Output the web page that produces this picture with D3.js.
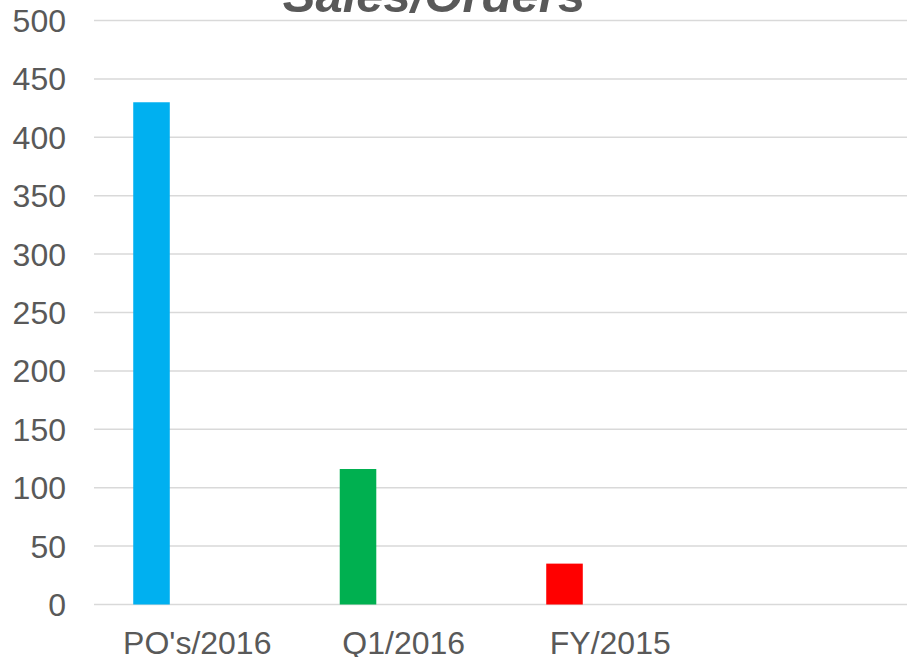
<!DOCTYPE html>
<html lang="en">
  <head>
    <meta charset="utf-8">
    <title>Sales/Orders</title>
    <style>
      body { margin: 0; background: #fff; }
      svg { display: block; font-family: Arial, "Liberation Sans", sans-serif; }
    </style>
  </head>
  <body>
    <div id="chart"></div>
  </body>
  <script src="https://cdnjs.cloudflare.com/ajax/libs/d3/7.8.5/d3.min.js"></script>
  <script type="text/javascript">

    const categories = ["PO's/2016", "Q1/2016", "FY/2015"]
    const values = [430, 116, 35]
    const barColors = ['#00B0F0', '#00B050', '#FF0000']
    const yTicks = [0, 50, 100, 150, 200, 250, 300, 350, 400, 450, 500]

    const width = 907
    const height = 657
    const textColor = '#595959'

    const svg = d3.select('#chart')
      .append('svg')
      .attr('width', width)
      .attr('height', height)

    // the plot area runs past the right edge of the picture (one empty slot)
    const x = d3.scaleBand()
      .domain([...categories, ''])
      .range([94, 920])

    const y = d3.scaleLinear()
      .domain([0, 500])
      .range([604.5, 20.5])

    // gridlines
    svg.append('g')
      .selectAll('line')
      .data(yTicks)
      .join('line')
      .attr('x1', 94)
      .attr('x2', 920)
      .attr('y1', d => y(d))
      .attr('y2', d => y(d))
      .attr('stroke', '#d9d9d9')
      .attr('stroke-width', 1.5)

    // y labels
    svg.append('g')
      .selectAll('text')
      .data(yTicks)
      .join('text')
      .attr('x', 66)
      .attr('y', d => y(d))
      .attr('dy', '0.36em')
      .attr('text-anchor', 'end')
      .style('font-size', '32px')
      .style('fill', textColor)
      .text(d => d)

    // bars sit at the left side of each category slot
    const data = categories.map((c, i) => ({ name: c, value: values[i], color: barColors[i] }))
    svg.append('g')
      .selectAll('rect')
      .data(data)
      .join('rect')
      .attr('x', d => x(d.name) + x.bandwidth() * 0.19)
      .attr('width', x.bandwidth() * 0.177)
      .attr('y', d => y(d.value))
      .attr('height', d => y(0) - y(d.value))
      .attr('fill', d => d.color)

    // x labels
    svg.append('g')
      .selectAll('text')
      .data(categories)
      .join('text')
      .attr('x', d => x(d) + x.bandwidth() / 2)
      .attr('y', 654)
      .attr('text-anchor', 'middle')
      .style('font-size', '32px')
      .style('fill', textColor)
      .text(d => d)

    // title, cut off by the top of the picture
    svg.append('text')
      .attr('x', 434)
      .attr('y', 12)
      .attr('text-anchor', 'middle')
      .style('font-size', '49px')
      .style('font-weight', 'bold')
      .style('font-style', 'italic')
      .style('fill', textColor)
      .text('Sales/Orders')

  </script>
</html>
